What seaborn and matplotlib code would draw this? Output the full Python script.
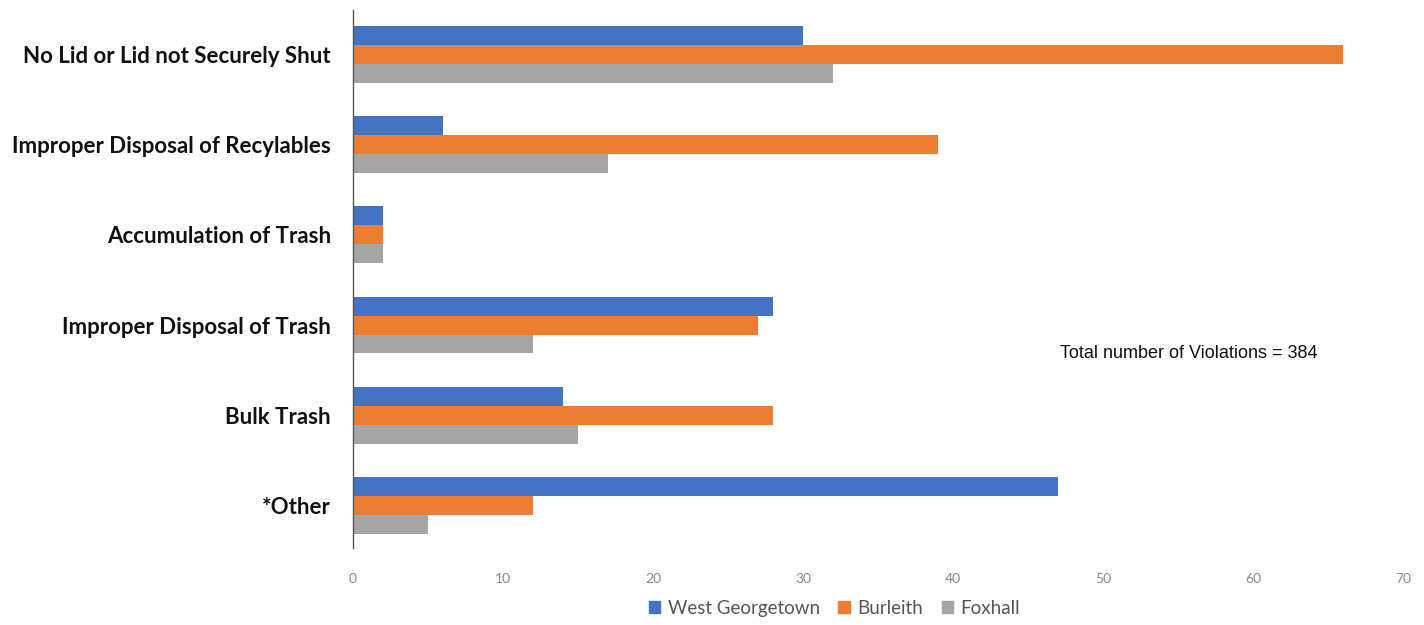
import matplotlib
matplotlib.use("Agg")
import matplotlib.pyplot as plt
import seaborn as sns
import pandas as pd

categories = [
    "No Lid or Lid not Securely Shut",
    "Improper Disposal of Recylables",
    "Accumulation of Trash",
    "Improper Disposal of Trash",
    "Bulk Trash",
    "*Other",
]
neighborhoods = ["West Georgetown", "Burleith", "Foxhall"]
west_georgetown = [30, 6, 2, 28, 14, 47]
burleith = [66, 39, 2, 27, 28, 12]
foxhall = [32, 17, 2, 12, 15, 5]
x_ticks = [0, 10, 20, 30, 40, 50, 60, 70]
total_violations = 384

colors = ["#4472C4", "#ED7D31", "#A5A5A5"]

rows = []
for name, vals in zip(neighborhoods, [west_georgetown, burleith, foxhall]):
    for cat, v in zip(categories, vals):
        rows.append({"Violation": cat, "Neighborhood": name, "Count": v})
df = pd.DataFrame(rows)

sns.set_style("white")
plt.rcParams["font.family"] = ["Lato", "DejaVu Sans"]

fig = plt.figure(figsize=(14.24, 6.25), dpi=100)
ax = fig.add_axes([0.2479, 0.1232, 0.7374, 0.8608])

sns.barplot(data=df, y="Violation", x="Count", hue="Neighborhood",
            order=categories, hue_order=neighborhoods, palette=colors,
            orient="h", width=0.63, saturation=1, linewidth=0,
            ax=ax, legend=False)

ax.set_xlim(0, 70)
ax.set_ylim(5.47, -0.49)
ax.set_xticks(x_ticks)
ax.set_xticklabels([str(t) for t in x_ticks], color="#8a8a8a", fontsize=10)
ax.tick_params(axis="x", length=0, pad=18)
ax.tick_params(axis="y", length=0, pad=16)
for lbl in ax.get_yticklabels():
    lbl.set_fontweight("bold")
    lbl.set_fontsize(16)
    lbl.set_color("#111111")
ax.set_xlabel("")
ax.set_ylabel("")
for s in ["top", "right", "bottom"]:
    ax.spines[s].set_visible(False)
ax.spines["left"].set_color("#555555")
ax.spines["left"].set_linewidth(1.0)

fig.text(1060 / 1424, 1 - 354 / 625,
         f"Total number of Violations = {total_violations}",
         fontsize=13, family="Liberation Sans", va="center", ha="left",
         color="#111111")

handles = [plt.Rectangle((0, 0), 1, 1, color=c) for c in colors]
fig.legend(handles, neighborhoods, loc="center", bbox_to_anchor=(0.586, 0.027),
           ncol=3, frameon=False, fontsize=13.5, handlelength=0.6,
           handleheight=0.6, handletextpad=0.4, columnspacing=1.0,
           labelcolor="#555555")

fig.savefig("out.png", dpi=100)
